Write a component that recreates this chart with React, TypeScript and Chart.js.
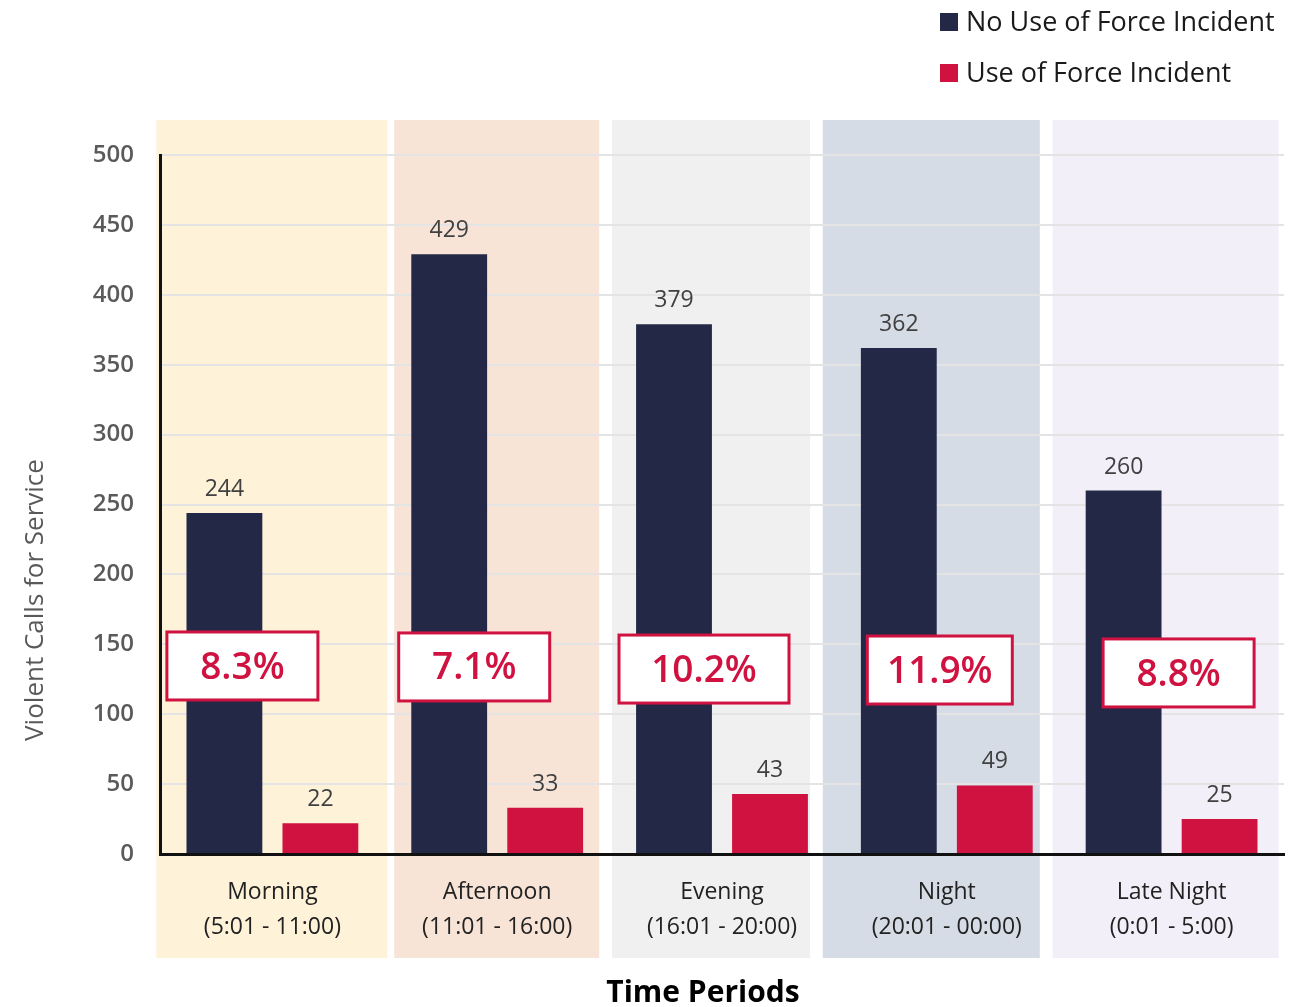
import React, { useEffect, useRef } from "react";
import { Chart, registerables } from "chart.js";

Chart.register(...registerables);

// ---- data ----
const periodNames = ["Morning", "Afternoon", "Evening", "Night", "Late Night"];
const periodRanges = ["(5:01 - 11:00)", "(11:01 - 16:00)", "(16:01 - 20:00)", "(20:01 - 00:00)", "(0:01 - 5:00)"];
const noForceValues = [244, 429, 379, 362, 260];
const forceValues = [22, 33, 43, 49, 25];
const forceShareLabels = ["8.3%", "7.1%", "10.2%", "11.9%", "8.8%"];
const seriesNames = ["No Use of Force Incident", "Use of Force Incident"];
const yTicks = [0, 50, 100, 150, 200, 250, 300, 350, 400, 450, 500];

// ---- styles / layout ----
const NAVY = "#232846";
const CRIMSON = "#D01241";
const FONT = "'Open Sans', 'Noto Sans', sans-serif";
const bandColors = ["#FEF2D8", "#F8E4D7", "#F0F0F0", "#D5DCE5", "#F3EFF8"];
// band edges as pixel offsets from each category centre
const bandEdges = [
  [-116, 115],
  [-103, 102],
  [-110, 88],
  [-124, 93],
  [-119, 107],
];
// percentage box: centre offset from category centre (px), box width (px), centre height (axis units)
const boxLayout = [
  { dx: -30, w: 151, v: 134.5 },
  { dx: -23, w: 151, v: 133.8 },
  { dx: -18, w: 170, v: 132.3 },
  { dx: -7, w: 145, v: 131.6 },
  { dx: 7, w: 151, v: 129.5 },
];

const decorPlugin = {
  id: "decor",
  beforeDraw(chart: any) {
    const { ctx, chartArea } = chart;
    const xs = chart.scales.x;
    ctx.save();
    bandEdges.forEach((e, i) => {
      const c = xs.getPixelForValue(i);
      ctx.fillStyle = bandColors[i];
      ctx.fillRect(c + e[0], chartArea.top - 35, e[1] - e[0], chartArea.bottom + 104 - (chartArea.top - 35));
    });
    ctx.restore();
  },
  afterDatasetsDraw(chart: any) {
    const { ctx } = chart;
    const xs = chart.scales.x;
    const ys = chart.scales.y;
    ctx.save();
    // value labels
    ctx.font = `400 23px ${FONT}`;
    ctx.fillStyle = "#404040";
    ctx.textAlign = "center";
    ctx.textBaseline = "alphabetic";
    chart.data.datasets.forEach((ds: any, di: number) => {
      const meta = chart.getDatasetMeta(di);
      meta.data.forEach((el: any, i: number) => {
        ctx.fillText(String(ds.data[i]), el.x, el.y - 17);
      });
    });
    // percentage boxes
    forceShareLabels.forEach((lab, i) => {
      const b = boxLayout[i];
      const cx = xs.getPixelForValue(i) + b.dx;
      const cy = ys.getPixelForValue(b.v);
      const h = 68;
      ctx.fillStyle = "#ffffff";
      ctx.fillRect(cx - b.w / 2, cy - h / 2, b.w, h);
      ctx.strokeStyle = CRIMSON;
      ctx.lineWidth = 3;
      ctx.strokeRect(cx - b.w / 2, cy - h / 2, b.w, h);
      ctx.fillStyle = CRIMSON;
      ctx.font = `600 37px ${FONT}`;
      ctx.textBaseline = "middle";
      ctx.fillText(lab, cx, cy + 2);
    });
    ctx.restore();
  },
  afterDraw(chart: any) {
    const { ctx, chartArea } = chart;
    ctx.save();
    // legend
    const colors = [NAVY, CRIMSON];
    ctx.font = `400 27px ${FONT}`;
    ctx.textAlign = "left";
    ctx.textBaseline = "middle";
    seriesNames.forEach((name, i) => {
      const y = 22 + i * 51;
      ctx.fillStyle = colors[i];
      ctx.fillRect(940, y - 9, 18, 18);
      ctx.fillStyle = "#1a1a1a";
      ctx.fillText(name, 966, y + 1);
    });
    // y title
    ctx.save();
    ctx.translate(36, 600);
    ctx.rotate(-Math.PI / 2);
    ctx.font = `400 26px ${FONT}`;
    ctx.fillStyle = "#595959";
    ctx.textAlign = "center";
    ctx.textBaseline = "middle";
    ctx.fillText("Violent Calls for Service", 0, 0);
    ctx.restore();
    // x title
    ctx.font = `700 30px ${FONT}`;
    ctx.fillStyle = "#000000";
    ctx.textAlign = "center";
    ctx.textBaseline = "alphabetic";
    ctx.fillText("Time Periods", 703, chartArea.bottom + 148);
    ctx.restore();
  },
};

export default function App() {
  const ref = useRef<HTMLCanvasElement | null>(null);
  useEffect(() => {
    if (!ref.current) return;
    const chart = new Chart(ref.current, {
      type: "bar",
      data: {
        labels: periodNames.map((n, i) => [n, periodRanges[i]]),
        datasets: [
          {
            label: seriesNames[0],
            data: noForceValues,
            backgroundColor: NAVY,
            barPercentage: 0.79,
            categoryPercentage: 0.854,
          },
          {
            label: seriesNames[1],
            data: forceValues,
            backgroundColor: CRIMSON,
            barPercentage: 0.79,
            categoryPercentage: 0.854,
          },
        ],
      },
      options: {
        animation: false,
        responsive: true,
        maintainAspectRatio: false,
        layout: { padding: { top: 155, right: 15, left: 0, bottom: 0 } },
        plugins: {
          legend: { display: false },
          tooltip: { enabled: false },
          title: { display: false },
        },
        scales: {
          x: {
            grid: { display: false, drawTicks: false },
            border: { display: true, color: "#111111", width: 3 },
            ticks: {
              color: "#222222",
              font: { family: FONT, size: 23, lineHeight: "35px" } as any,
              padding: 21,
              maxRotation: 0,
              autoSkip: false,
            },
            afterFit(scale: any) {
              scale.height = 153;
            },
          },
          y: {
            min: 0,
            max: 500,
            afterBuildTicks(scale: any) {
              scale.ticks = yTicks.map((v) => ({ value: v }));
            },
            grid: { color: "#E4E4E4", lineWidth: 2, drawTicks: false },
            border: { display: true, color: "#111111", width: 3 },
            ticks: {
              color: "#5A5A5A",
              font: { family: FONT, size: 24, weight: "600" } as any,
              padding: 26,
            },
            afterFit(scale: any) {
              scale.width = 160;
            },
          },
        },
      },
      plugins: [decorPlugin],
    });
    return () => chart.destroy();
  }, []);
  return (
    <div style={{ position: "fixed", left: 0, top: 0, width: 1299, height: 1007, background: "#ffffff" }}>
      <canvas ref={ref} />
    </div>
  );
}
